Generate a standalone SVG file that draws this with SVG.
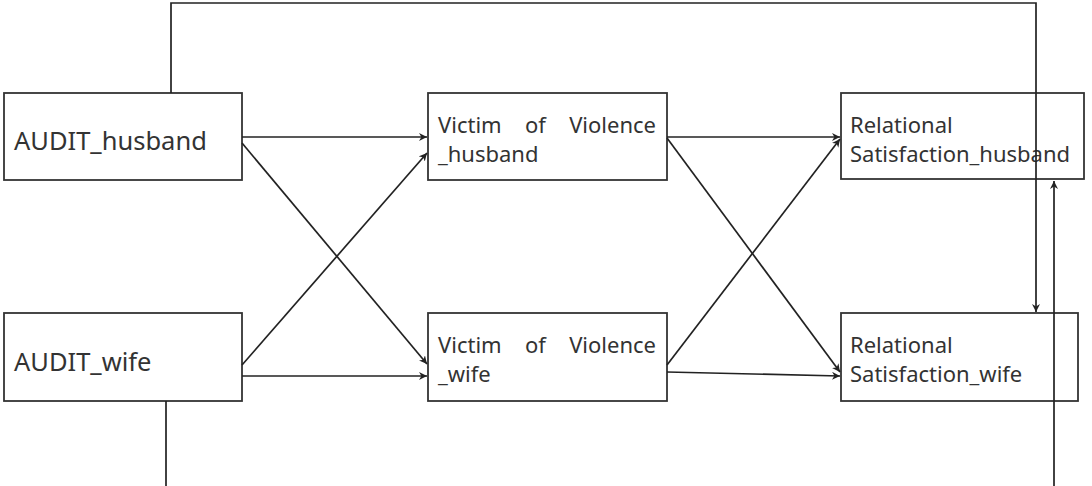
<svg xmlns="http://www.w3.org/2000/svg" width="1092" height="486" viewBox="0 0 1092 486">
<style>
.box{fill:#fff;stroke:#333;stroke-width:1.8}
.lbl{font-family:"Noto Sans","Open Sans","Liberation Sans",sans-serif;fill:#333}
.big{font-size:25.5px}
.sm{font-size:22px}
.c{fill:none;stroke:#222;stroke-width:1.7}
</style>
<defs>
<marker id="ah" viewBox="0 0 10 10" refX="10" refY="5" markerWidth="8" markerHeight="8" markerUnits="userSpaceOnUse" orient="auto">
<path d="M0,0 L10,5 L0,10 L3,5 Z" fill="#222"/>
</marker>
</defs>
<rect width="1092" height="486" fill="#fff"/>
<g id="audit_husband"><rect class="box" x="4" y="93" width="238" height="87"/><text class="lbl big" x="14" y="150">AUDIT_husband</text></g>
<g id="audit_wife"><rect class="box" x="4" y="313" width="238" height="88"/><text class="lbl big" x="14" y="371">AUDIT_wife</text></g>
<g id="victim_husband"><rect class="box" x="428" y="93" width="239" height="87"/>
<text class="lbl sm" y="133"><tspan x="438">Victim</tspan><tspan x="525">of</tspan><tspan x="656" text-anchor="end">Violence</tspan></text>
<text class="lbl sm" x="438" y="162">_husband</text></g>
<g id="victim_wife"><rect class="box" x="428" y="313" width="239" height="88"/>
<text class="lbl sm" y="353"><tspan x="438">Victim</tspan><tspan x="525">of</tspan><tspan x="656" text-anchor="end">Violence</tspan></text>
<text class="lbl sm" x="438" y="382">_wife</text></g>
<g id="rs_husband"><rect class="box" x="841" y="93" width="243" height="86"/>
<text class="lbl sm" x="850" y="133">Relational</text><text class="lbl sm" x="850" y="162">Satisfaction_husband</text></g>
<g id="rs_wife"><rect class="box" x="841" y="313" width="237" height="88"/>
<text class="lbl sm" x="850" y="353">Relational</text><text class="lbl sm" x="850" y="382">Satisfaction_wife</text></g>
<g id="connectors">
<line class="c" x1="242" y1="137" x2="427" y2="137" marker-end="url(#ah)"/>
<line class="c" x1="242" y1="143" x2="427" y2="364" marker-end="url(#ah)"/>
<line class="c" x1="242" y1="365" x2="427" y2="153" marker-end="url(#ah)"/>
<line class="c" x1="242" y1="376" x2="427" y2="376" marker-end="url(#ah)"/>
<line class="c" x1="667" y1="137" x2="840" y2="137" marker-end="url(#ah)"/>
<line class="c" x1="667" y1="138" x2="840" y2="372" marker-end="url(#ah)"/>
<line class="c" x1="667" y1="365" x2="840" y2="139" marker-end="url(#ah)"/>
<line class="c" x1="667" y1="372" x2="840" y2="376" marker-end="url(#ah)"/>
<path class="c" d="M171,93 V3 H1036 V312" marker-end="url(#ah)"/>
<path class="c" d="M166,401 V492 H1054 V181" marker-end="url(#ah)"/>
</g>
</svg>
